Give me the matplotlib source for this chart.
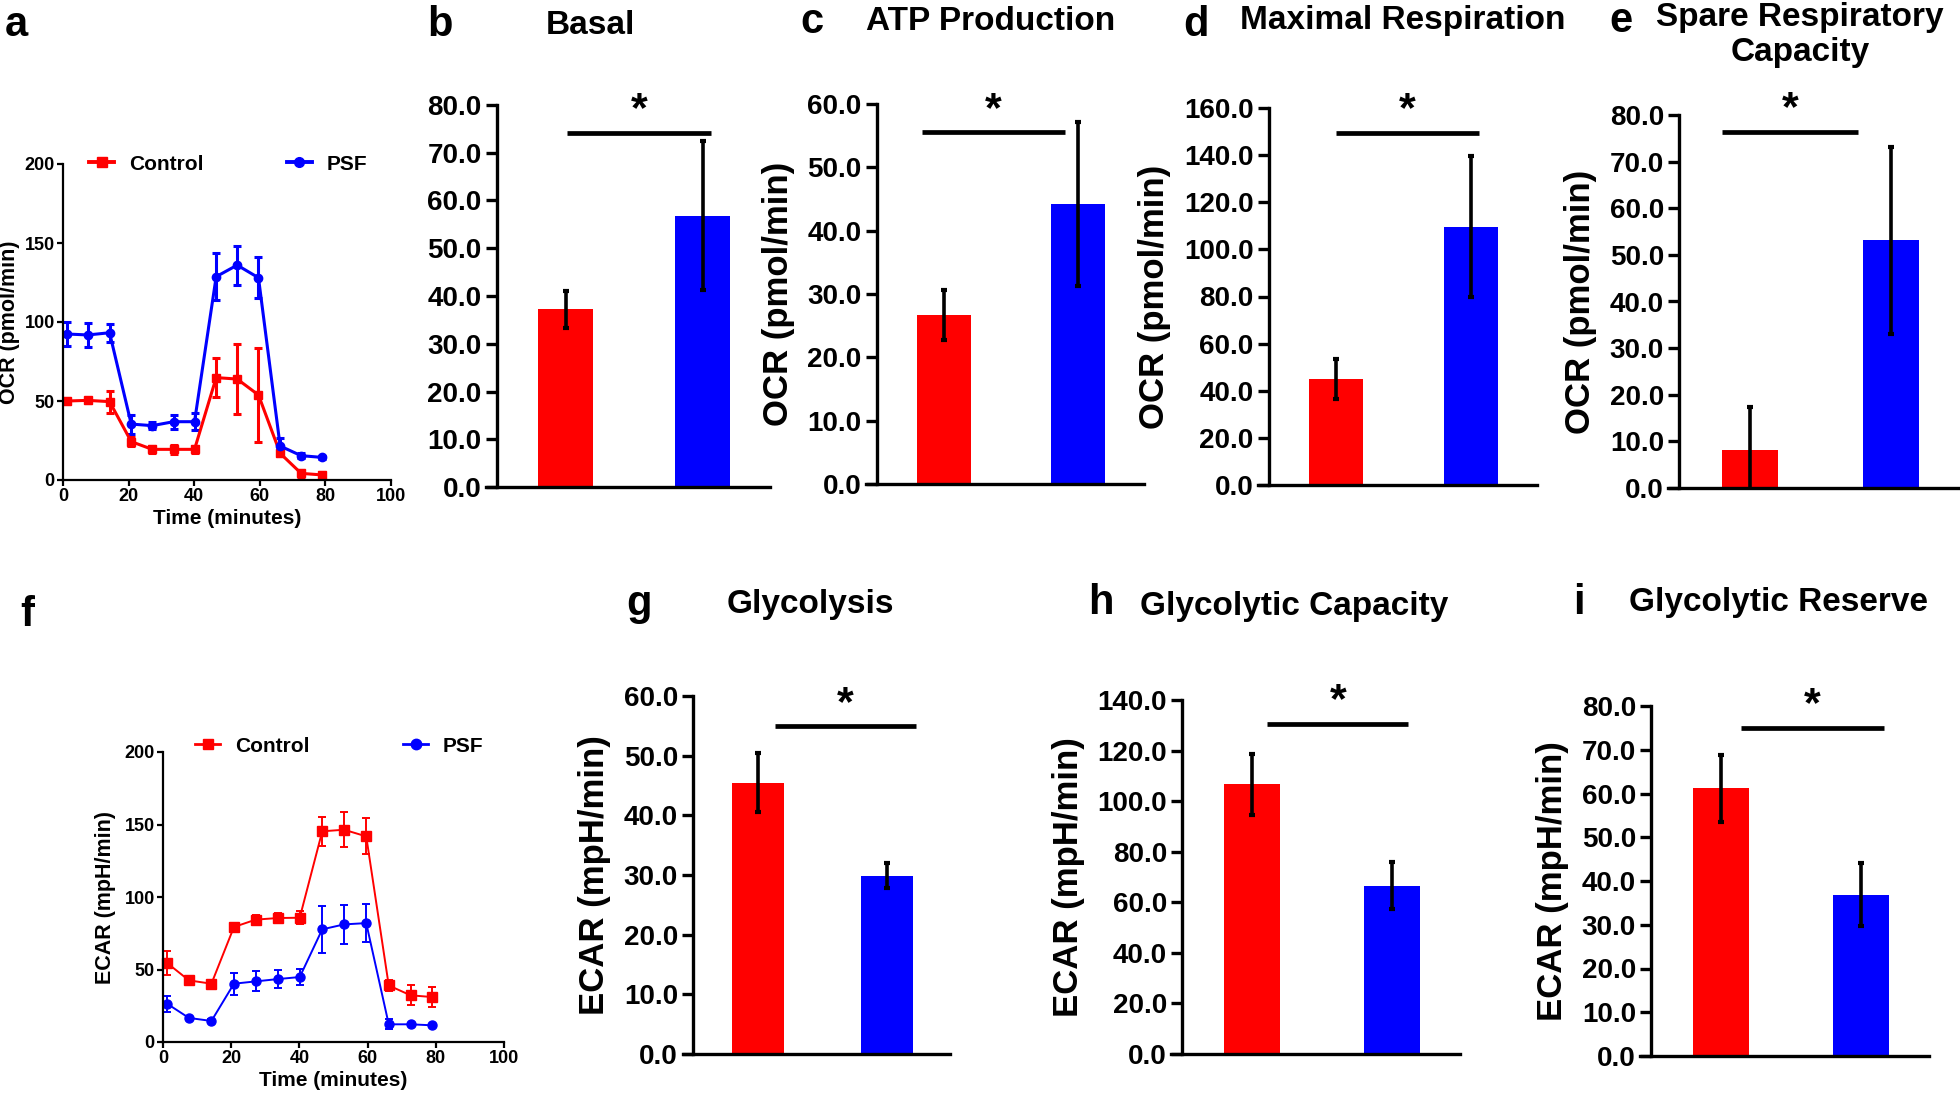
import matplotlib
matplotlib.use("Agg")
import matplotlib.pyplot as plt
from matplotlib import font_manager
from matplotlib.lines import Line2D

# ---- data ----
times = [1.2, 7.6, 14.2, 20.8, 27.2, 33.7, 40.1, 46.7, 53.1, 59.6, 66.2, 72.6, 79.0]

ocr_control = [50.0, 50.4, 49.6, 24.3, 19.4, 19.4, 19.4, 64.8, 63.9, 53.8, 16.9, 4.2, 3.2]
ocr_control_err = [2.0, 1.5, 6.9, 3.0, 2.0, 3.0, 2.0, 12.3, 22.4, 29.5, 2.0, 2.0, 2.0]
ocr_psf = [92.4, 91.8, 93.2, 35.4, 34.4, 36.9, 36.9, 128.7, 136.0, 128.0, 21.5, 15.4, 14.3]
ocr_psf_err = [7.9, 7.4, 5.7, 6.0, 2.0, 4.5, 5.5, 14.8, 12.4, 12.9, 5.0, 1.5, 1.0]

ecar_control = [54.5, 42.5, 40.2, 79.3, 84.4, 85.5, 85.7, 145.3, 146.4, 141.8, 39.0, 32.2, 31.0]
ecar_control_err = [8.0, 2.0, 2.0, 2.0, 3.0, 3.5, 4.5, 9.8, 12.2, 12.4, 4.0, 7.0, 6.7]
ecar_psf = [26.4, 16.6, 14.5, 40.2, 41.8, 43.4, 44.8, 77.7, 81.1, 82.0, 12.2, 12.2, 11.5]
ecar_psf_err = [5.4, 1.5, 1.5, 7.7, 6.9, 6.3, 5.4, 16.4, 13.6, 13.0, 3.5, 1.0, 1.0]

bar_titles = ["Basal", "ATP Production", "Maximal Respiration",
              "Spare Respiratory\nCapacity", "Glycolysis",
              "Glycolytic Capacity", "Glycolytic Reserve"]
bar_letters = ["b", "c", "d", "e", "g", "h", "i"]
bar_ylabels = [None, "OCR (pmol/min)", "OCR (pmol/min)", "OCR (pmol/min)",
               "ECAR (mpH/min)", "ECAR (mpH/min)", "ECAR (mpH/min)"]
bar_control = [37.2, 26.7, 45.1, 8.1, 45.5, 106.6, 61.2]
bar_control_err = [3.9, 4.0, 8.5, 9.3, 4.9, 12.0, 7.6]
bar_psf = [56.8, 44.2, 109.6, 53.1, 29.9, 66.6, 36.9]
bar_psf_err = [15.6, 13.0, 30.0, 20.0, 2.1, 9.3, 7.2]
bar_ymax = [80, 60, 160, 80, 60, 140, 80]
bar_ystep = [10, 10, 20, 10, 10, 20, 10]
sig_y = [74.2, 55.5, 149.4, 76.3, 54.9, 130.5, 74.9]
sig_x = [(0.01, 1.06), (-0.16, 0.9), (0.0, 1.06), (-0.2, 0.77),
         (0.13, 1.23), (0.11, 1.12), (0.14, 1.17)]

# ---- layout (pixel boxes: left, right, top, bottom) ----
W, H = 1960, 1110
bar_boxes = [(486, 770, 105, 487), (866, 1144, 104, 484), (1258, 1537, 108, 485),
             (1668, 1960, 115, 488), (683, 950, 696, 1054), (1171, 1460, 700, 1054),
             (1640, 1929, 706, 1056)]
letter_pos = [(440, 25), (812, 22), (1196, 25), (1621, 21), (639, 604), (1101, 603), (1579, 603)]
title_pos = [(590, 25), (991, 22), (1403, 21), (1800, 35), (810, 604), (1294, 606), (1778, 603)]

RED = "#ff0000"
BLUE = "#0000ff"

names = {f.name for f in font_manager.fontManager.ttflist}
NARROW = "Liberation Sans Narrow" if "Liberation Sans Narrow" in names else "Liberation Sans"
plt.rcParams["font.family"] = ["Liberation Sans", "DejaVu Sans"]
plt.rcParams["font.weight"] = "bold"


def box_axes(fig, l, r, t, b):
    return fig.add_axes([l / W, 1 - b / H, (r - l) / W, (b - t) / H])


def fig_text(fig, x, y, s, size, **kw):
    fig.text(x / W, 1 - y / H, s, fontsize=size, fontweight="bold",
             ha="center", va="center", **kw)


fig = plt.figure(figsize=(W / 100, H / 100), dpi=100)


def line_panel(box, ctrl, ctrl_err, psf, psf_err, ylabel, lw, ms, ypad, leg_x, colspace, leg_y):
    ax = box_axes(fig, *box)
    ax.errorbar(times, ctrl, yerr=ctrl_err, color=RED, lw=lw, marker="s", ms=ms,
                capsize=3, elinewidth=lw, capthick=lw, clip_on=False)
    ax.errorbar(times, psf, yerr=psf_err, color=BLUE, lw=lw, marker="o", ms=ms,
                capsize=3, elinewidth=lw, capthick=lw, clip_on=False)
    ax.set_xlim(0, 100)
    ax.set_ylim(0, 200)
    ax.set_xticks(range(0, 101, 20))
    ax.set_yticks(range(0, 201, 50))
    for s in ["top", "right"]:
        ax.spines[s].set_visible(False)
    for s in ["left", "bottom"]:
        ax.spines[s].set_linewidth(1.6)
    ax.tick_params(width=1.6, length=4, pad=2, labelsize=13)
    for lab in ax.get_xticklabels() + ax.get_yticklabels():
        lab.set_family(NARROW)
    ax.set_xlabel("Time (minutes)", family=NARROW, fontsize=15, fontweight="bold", labelpad=3)
    ax.set_ylabel(ylabel, fontsize=15.5, fontweight="bold", labelpad=ypad)
    handles = [Line2D([], [], color=RED, lw=lw + 0.6, marker="s", ms=ms + 1),
               Line2D([], [], color=BLUE, lw=lw + 0.6, marker="o", ms=ms + 1)]
    ax.legend(handles, ["Control", "PSF"], ncol=2, loc="center left",
              bbox_to_anchor=(leg_x, leg_y), frameon=False,
              handlelength=1.2, handletextpad=0.7, columnspacing=colspace,
              prop={"family": NARROW, "size": 15, "weight": "bold"}, borderaxespad=0)
    return ax


line_panel((63, 391, 164, 480), ocr_control, ocr_control_err, ocr_psf, ocr_psf_err,
           "OCR (pmol/min)", 2.2, 6, 3, 0.055, 4.0, 1.0)
line_panel((163, 504, 752, 1042), ecar_control, ecar_control_err, ecar_psf, ecar_psf_err,
           "ECAR (mpH/min)", 1.4, 6.5, 6, 0.07, 4.5, 1.02)
fig_text(fig, 16, 25, "a", 30)
fig_text(fig, 27, 615, "f", 30)

for k in range(7):
    ax = box_axes(fig, *bar_boxes[k])
    ax.spines["left"].set_position(("data", -0.5))
    ax.bar([0, 1], [bar_control[k], bar_psf[k]], width=0.4, color=[RED, BLUE], zorder=1)
    ax.errorbar([0, 1], [bar_control[k], bar_psf[k]], yerr=[bar_control_err[k], bar_psf_err[k]],
                fmt="none", ecolor="black", elinewidth=2.6, capsize=2.5, capthick=3, zorder=2)
    ax.set_xlim(-0.58, 1.49)
    ax.set_ylim(0, bar_ymax[k])
    ticks = list(range(0, bar_ymax[k] + 1, bar_ystep[k]))
    ax.set_yticks(ticks)
    ax.set_yticklabels([f"{v:.1f}" for v in ticks])
    ax.set_xticks([])
    for s in ["top", "right"]:
        ax.spines[s].set_visible(False)
    for s in ["left", "bottom"]:
        ax.spines[s].set_linewidth(2.4)
    ax.tick_params(axis="y", width=2.4, length=8, pad=3, labelsize=20)
    if bar_ylabels[k]:
        ax.set_ylabel(bar_ylabels[k], fontsize=25, fontweight="bold", labelpad=9)
    x0, x1 = sig_x[k]
    ax.plot([x0, x1], [sig_y[k], sig_y[k]], color="black", lw=3.4, clip_on=False,
            solid_capstyle="butt")
    ax.annotate("*", ((x0 + x1) / 2, sig_y[k]), xytext=(0, 2), textcoords="offset points",
                ha="center", va="bottom", fontsize=31, fontweight="bold", annotation_clip=False)
    fig_text(fig, *letter_pos[k], bar_letters[k], 30)
    fig_text(fig, *title_pos[k], bar_titles[k], 24, linespacing=1.15)

fig.savefig("out.png", dpi=100)
